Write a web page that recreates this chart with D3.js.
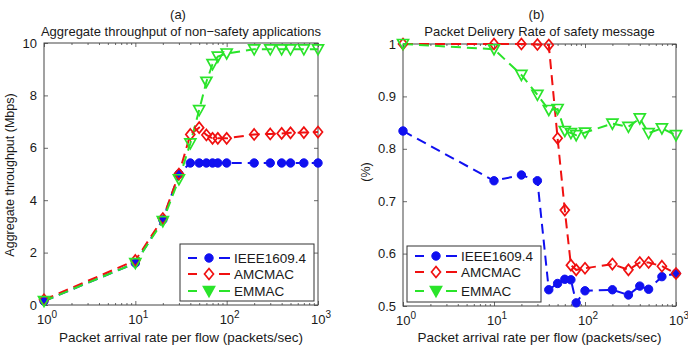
<!DOCTYPE html>
<html>
<head>
<meta charset="utf-8">
<script src="https://cdn.jsdelivr.net/npm/d3@7"></script>
<style>
  html, body { margin: 0; padding: 0; background: #fff; }
  svg { display: block; font-family: "Liberation Sans", Arial, sans-serif; }
</style>
</head>
<body>
<svg id="chart" width="688" height="345"></svg>
<script>
// ---- data ----
const rates = [1, 10, 20, 30, 40, 50, 60, 70, 80, 100, 200, 300, 400, 500, 700, 1000];
const seriesNames = ["IEEE1609.4", "AMCMAC", "EMMAC"];

const ieeeThroughput = [0.15, 1.6, 3.25, 5.0, 5.42, 5.42, 5.42, 5.42, 5.42, 5.42, 5.42, 5.42, 5.42, 5.42, 5.42, 5.42];
const amcmacThroughput = [0.2, 1.7, 3.3, 5.0, 6.51, 6.77, 6.49, 6.36, 6.36, 6.36, 6.51, 6.53, 6.55, 6.57, 6.58, 6.6];
const emmacThroughput = [0.15, 1.6, 3.2, 4.8, 6.17, 7.44, 8.52, 9.19, 9.48, 9.6, 9.76, 9.76, 9.76, 9.76, 9.76, 9.76];

const ieeePdr = [0.834, 0.739, 0.75, 0.739, 0.531, 0.543, 0.551, 0.55, 0.506, 0.529, 0.531, 0.521, 0.538, 0.532, 0.556, 0.562];
const amcmacPdr = [1.0, 1.0, 1.0, 0.999, 0.998, 0.82, 0.683, 0.578, 0.569, 0.572, 0.58, 0.569, 0.583, 0.583, 0.576, 0.562];
const emmacPdr = [1.0, 0.99, 0.941, 0.903, 0.874, 0.876, 0.834, 0.83, 0.826, 0.831, 0.848, 0.842, 0.858, 0.83, 0.839, 0.826];

const xTickExps = [0, 1, 2, 3];
const throughputTicks = [0, 2, 4, 6, 8, 10];
const pdrTicks = [0.5, 0.6, 0.7, 0.8, 0.9, 1];
const pdrTickLabels = ["0.5", "0.6", "0.7", "0.8", "0.9", "1"];

// ---- styles ----
const colors = ["#1010f0", "#f01010", "#2ae42a"];
const axisColor = "#444";
const textColor = "#1a1a1a";

const svg = d3.select("#chart");

function marker(g, type, x, y, color, filled) {
  if (type === "circle") {
    g.append("circle").attr("cx", x).attr("cy", y).attr("r", 4.2)
      .attr("fill", color).attr("stroke", color).attr("stroke-width", 1);
  } else if (type === "diamond") {
    g.append("path").attr("d", `M${x},${y-5.5}L${x+4.5},${y}L${x},${y+5.5}L${x-4.5},${y}Z`)
      .attr("fill", filled ? color : "none").attr("stroke", color).attr("stroke-width", 1.7);
  } else {
    g.append("path").attr("d", `M${x-5.5},${y-4.5}L${x+5.5},${y-4.5}L${x},${y+5.5}Z`)
      .attr("fill", filled ? color : "none").attr("stroke", color).attr("stroke-width", 1.7);
  }
}
const markerTypes = ["circle", "diamond", "triangle"];

function panel(cfg) {
  const x = d3.scaleLog().domain([1, 1000]).range([cfg.x0, cfg.x1]);
  const y = d3.scaleLinear().domain(cfg.yDomain).range([cfg.y1, cfg.y0]);
  const g = svg.append("g");

  const minor = [];
  for (let e = 0; e < 3; e++) for (let m = 2; m <= 9; m++) minor.push(m * Math.pow(10, e));
  const majors = xTickExps.map(e => Math.pow(10, e));

  const axB = g.append("g").attr("transform", `translate(0,${cfg.y1})`)
    .call(d3.axisBottom(x).tickValues(majors).tickSize(-4).tickFormat(""));
  const axBm = g.append("g").attr("transform", `translate(0,${cfg.y1})`)
    .call(d3.axisBottom(x).tickValues(minor).tickSize(-2).tickFormat(""));
  const axT = g.append("g").attr("transform", `translate(0,${cfg.y0})`)
    .call(d3.axisTop(x).tickValues(majors).tickSize(-4).tickFormat(""));
  const axTm = g.append("g").attr("transform", `translate(0,${cfg.y0})`)
    .call(d3.axisTop(x).tickValues(minor).tickSize(-2).tickFormat(""));
  const axL = g.append("g").attr("transform", `translate(${cfg.x0},0)`)
    .call(d3.axisLeft(y).tickValues(cfg.yTicks).tickSize(-4).tickFormat(""));
  const axR = g.append("g").attr("transform", `translate(${cfg.x1},0)`)
    .call(d3.axisRight(y).tickValues(cfg.yTicks).tickSize(-4).tickFormat(""));
  [axB, axBm, axT, axTm, axL, axR].forEach(a => {
    a.select(".domain").remove();
    a.selectAll("line").attr("stroke", axisColor).attr("stroke-width", 0.8);
  });

  g.append("rect").attr("x", cfg.x0).attr("y", cfg.y0)
    .attr("width", cfg.x1 - cfg.x0).attr("height", cfg.y1 - cfg.y0)
    .attr("fill", "none").attr("stroke", axisColor).attr("stroke-width", 1);

  xTickExps.forEach(e => {
    const t = g.append("text").attr("x", x(Math.pow(10, e)) + 3).attr("y", cfg.y1 + 19)
      .attr("text-anchor", "middle").attr("font-size", 13).attr("fill", textColor);
    t.append("tspan").text("10");
    t.append("tspan").attr("dy", -6).attr("font-size", 10).text(String(e));
  });
  cfg.yTicks.forEach((v, i) => {
    g.append("text").attr("x", cfg.x0 - 7).attr("y", y(v) + 4.5)
      .attr("text-anchor", "end").attr("font-size", 13).attr("fill", textColor)
      .text(cfg.yLabels[i]);
  });

  const cx = (cfg.x0 + cfg.x1) / 2;
  g.append("text").attr("x", cx - 3).attr("y", 19).attr("text-anchor", "middle")
    .attr("font-size", 13).attr("fill", textColor).text(cfg.tag);
  g.append("text").attr("x", cx).attr("y", 35.5).attr("text-anchor", "middle")
    .attr("font-size", 13).attr("fill", textColor).text(cfg.title);
  g.append("text").attr("x", cx).attr("y", 342).attr("text-anchor", "middle")
    .attr("font-size", 13.5).attr("fill", textColor).text("Packet arrival rate per flow (packets/sec)");
  g.append("text").attr("transform", `translate(${cfg.yLabelX},${cfg.yLabelY}) rotate(-90)`)
    .attr("text-anchor", "middle").attr("font-size", 12.5).attr("fill", textColor).text(cfg.yTitle);

  const plot = g.append("g");
  const line = d3.line().x((d, i) => x(rates[i])).y(d => y(d));
  cfg.series.forEach((s, k) => {
    plot.append("path").datum(s).attr("d", line).attr("fill", "none")
      .attr("stroke", colors[k]).attr("stroke-width", 2).attr("stroke-dasharray", "10,6");
  });
  cfg.series.forEach((s, k) => {
    s.forEach((v, i) => marker(plot, markerTypes[k], x(rates[i]), y(v), colors[k], false));
  });

  const L = cfg.legend;
  const lg = g.append("g");
  lg.append("rect").attr("x", L.x).attr("y", L.y).attr("width", L.w).attr("height", L.h)
    .attr("fill", "#fff").attr("stroke", "#333").attr("stroke-width", 1);
  seriesNames.forEach((name, k) => {
    const ry = L.rows[k];
    const lx0 = L.x + 8, lx1 = L.x + 50, mx = L.x + 29;
    lg.append("line").attr("x1", lx0).attr("x2", lx0 + 9).attr("y1", ry).attr("y2", ry)
      .attr("stroke", colors[k]).attr("stroke-width", 2);
    lg.append("line").attr("x1", lx1 - 11).attr("x2", lx1).attr("y1", ry).attr("y2", ry)
      .attr("stroke", colors[k]).attr("stroke-width", 2);
    marker(lg, markerTypes[k], mx, ry, colors[k], k !== 1);
    lg.append("text").attr("x", L.x + 54).attr("y", ry + 5).attr("font-size", 13.5)
      .attr("fill", textColor).text(name);
  });
}

panel({
  x0: 44, x1: 318, y0: 43, y1: 305,
  yDomain: [0, 10], yTicks: throughputTicks, yLabels: throughputTicks.map(String),
  tag: "(a)", title: "Aggregate throughput of non\u2212safety applications",
  yTitle: "Aggregate throughput (Mbps)", yLabelX: 14, yLabelY: 175,
  series: [ieeeThroughput, amcmacThroughput, emmacThroughput],
  legend: { x: 180, y: 244, w: 134, h: 57, rows: [258, 274, 291] }
});

panel({
  x0: 403, x1: 676, y0: 44, y1: 306,
  yDomain: [0.5, 1], yTicks: pdrTicks, yLabels: pdrTickLabels,
  tag: "(b)", title: "Packet Delivery Rate of safety message",
  yTitle: "(%)", yLabelX: 370, yLabelY: 172,
  series: [ieeePdr, amcmacPdr, emmacPdr],
  legend: { x: 407, y: 246, w: 134, h: 56, rows: [256, 272, 291] }
});
</script>
</body>
</html>
